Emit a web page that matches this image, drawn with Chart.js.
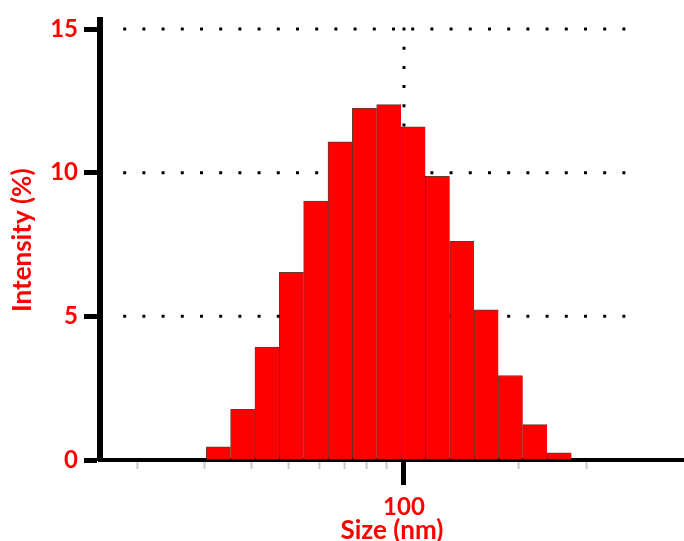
<!DOCTYPE html>
<html>
<head>
<meta charset="utf-8">
<script src="https://cdn.jsdelivr.net/npm/chart.js@4"></script>
<style>
  html, body { margin: 0; padding: 0; background: #fff; }
  #wrap { width: 684px; height: 541px; }
</style>
</head>
<body>
<div id="wrap"><canvas id="sizeChart" width="684" height="541"></canvas></div>
<script>
// size bins (nm) and intensity (%)
const sizes = [32.67, 37.84, 43.82, 50.75, 58.77, 68.06, 78.82, 91.28, 105.7, 122.4, 141.8, 164.2, 190.1, 220.2, 255.0];
const intensity = [0.46, 1.76, 3.93, 6.53, 9.01, 11.07, 12.24, 12.37, 11.60, 9.87, 7.61, 5.23, 2.94, 1.23, 0.25];

const xTicks = [20, 30, 40, 50, 60, 70, 80, 90, 100, 200, 300];
const xTickLabels = ['', '', '', '', '', '', '', '', '100', '', ''];
const yTicks = [0, 5, 10, 15];

const xRange = [16, 541];
const yRange = [0, 15.3];
const dotRange = [18.4, 380];   // extent of the dotted guides
const dotMark = 100;            // vertical dotted guide

const RED = '#ff0000';
const FONT = 'Lato, "Noto Sans", sans-serif';

const dottedGuides = {
  id: 'dottedGuides',
  beforeDatasetsDraw(chart) {
    const { ctx, scales: { x, y } } = chart;
    ctx.save();
    ctx.strokeStyle = '#000';
    ctx.lineWidth = 3;
    ctx.setLineDash([3, 16.2]);
    yTicks.filter(v => v > 0).forEach(v => {
      const py = y.getPixelForValue(v);
      ctx.beginPath();
      ctx.moveTo(x.getPixelForValue(dotRange[0]), py);
      ctx.lineTo(x.getPixelForValue(dotRange[1]), py);
      ctx.stroke();
    });
    const px = x.getPixelForValue(dotMark);
    ctx.beginPath();
    ctx.moveTo(px, y.getPixelForValue(yTicks[yTicks.length - 1]) - 1.5);
    ctx.lineTo(px, y.getPixelForValue(0));
    ctx.stroke();
    ctx.restore();
  }
};

const isMajor = ctx => ctx.tick && xTickLabels[xTicks.indexOf(ctx.tick.value)] !== '';

new Chart(document.getElementById('sizeChart'), {
  type: 'bar',
  data: {
    datasets: [{
      data: sizes.map((s, i) => ({ x: s, y: intensity[i] })),
      backgroundColor: RED,
      borderColor: 'rgba(70,0,0,0.8)',
      borderWidth: { top: 1, left: 1, right: 0, bottom: 0 },
      borderSkipped: false,
      barThickness: 'flex',
      categoryPercentage: 1,
      barPercentage: 1
    }]
  },
  options: {
    responsive: false,
    animation: false,
    devicePixelRatio: 1,
    layout: { padding: { top: 20, right: 0, bottom: 0, left: 0 } },
    plugins: { legend: { display: false }, tooltip: { enabled: false } },
    scales: {
      x: {
        type: 'logarithmic',
        min: xRange[0],
        max: xRange[1],
        offset: false,
        afterBuildTicks: scale => { scale.ticks = xTicks.map(v => ({ value: v })); },
        afterFit: scale => { scale.height = 81; },
        border: { display: true, color: '#000', width: 4 },
        grid: {
          offset: false,
          drawOnChartArea: false,
          drawTicks: true,
          tickLength: 25,
          tickWidth: ctx => isMajor(ctx) ? 5 : 2,
          tickColor: ctx => isMajor(ctx) ? '#000' : '#c8c8c8',
          tickBorderDash: ctx => isMajor(ctx) ? [] : [7, 100]
        },
        ticks: {
          autoSkip: false,
          maxRotation: 0,
          padding: 8,
          color: RED,
          font: { family: FONT, size: 24, weight: 'bold' },
          callback: (v) => {
            const i = xTicks.indexOf(v);
            return i >= 0 ? xTickLabels[i] : '';
          }
        },
        title: {
          display: true,
          text: 'Size (nm)',
          color: RED,
          font: { family: FONT, size: 26, weight: 'bold' },
          padding: { top: 0, bottom: -5 }
        }
      },
      y: {
        min: yRange[0],
        max: yRange[1],
        afterBuildTicks: scale => { scale.ticks = yTicks.map(v => ({ value: v })); },
        afterFit: scale => { scale.width = 100; },
        border: { display: true, color: '#000', width: 6 },
        grid: {
          drawOnChartArea: false,
          drawTicks: true,
          tickLength: 16,
          tickWidth: 5,
          tickColor: '#000'
        },
        ticks: {
          padding: 6,
          color: RED,
          font: { family: FONT, size: 24, weight: 'bold' }
        },
        title: {
          display: true,
          text: 'Intensity (%)',
          color: RED,
          font: { family: FONT, size: 26, weight: 'bold' },
          padding: { top: 7, bottom: 0 }
        }
      }
    }
  },
  plugins: [dottedGuides]
});
</script>
</body>
</html>
